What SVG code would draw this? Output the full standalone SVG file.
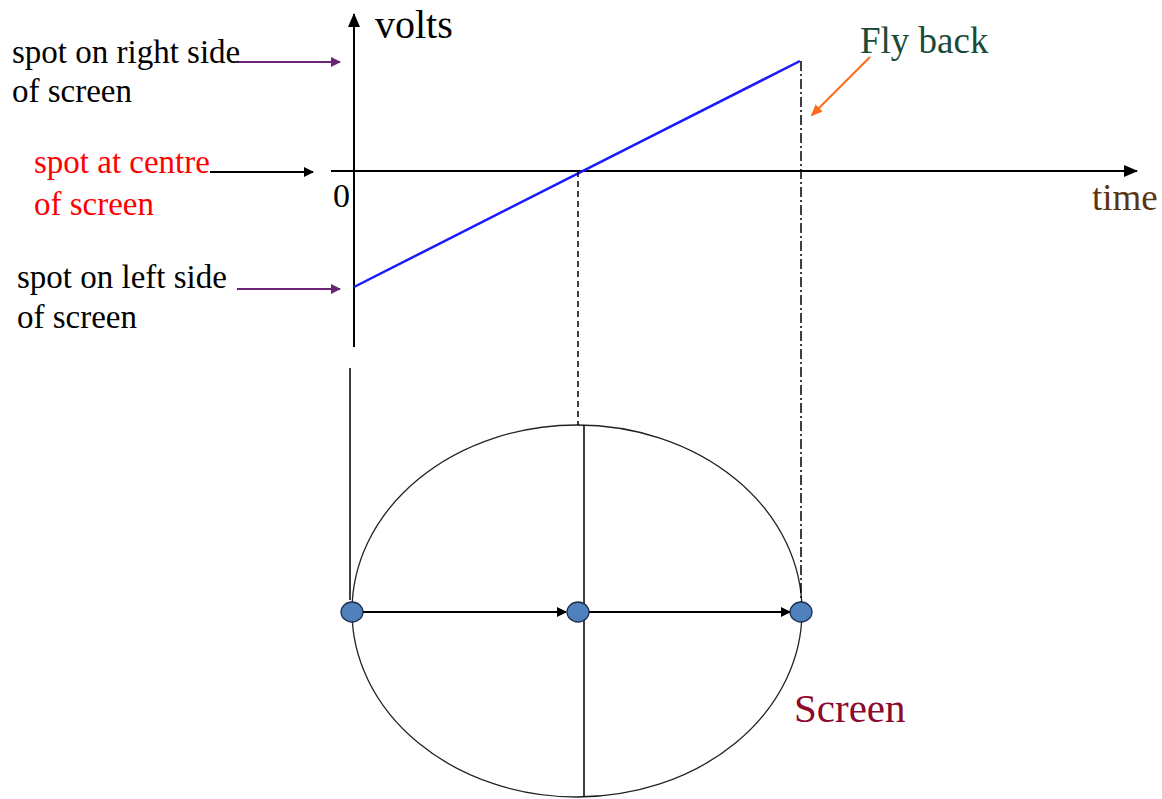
<svg xmlns="http://www.w3.org/2000/svg" width="1162" height="799" viewBox="0 0 1162 799">
<style>
text{font-family:"Liberation Serif","Times New Roman",serif;}
.lbl{font-size:33px;}
.ax{stroke:#000;stroke-width:2;fill:none;}
</style>
<defs>
<marker id="ab" markerWidth="10" markerHeight="10" refX="9" refY="5" orient="auto" markerUnits="userSpaceOnUse" viewBox="0 0 10 10"><path d="M0,0 L10,5 L0,10 z" fill="#000"/></marker>
<marker id="ap" markerWidth="10" markerHeight="10" refX="9" refY="5" orient="auto" markerUnits="userSpaceOnUse" viewBox="0 0 10 10"><path d="M0,0 L10,5 L0,10 z" fill="#6a2475"/></marker>
<marker id="ao" markerWidth="12" markerHeight="12" refX="10" refY="6" orient="auto" markerUnits="userSpaceOnUse" viewBox="0 0 12 12"><path d="M0,1 L12,6 L0,11 z" fill="#ff6a1a"/></marker>
<marker id="axm" markerWidth="14" markerHeight="12" refX="13" refY="6" orient="auto" markerUnits="userSpaceOnUse" viewBox="0 0 14 12"><path d="M0,0 L14,6 L0,12 z" fill="#000"/></marker>
</defs>
<rect width="1162" height="799" fill="#fff"/>
<g id="axes">
<line class="ax" x1="354" y1="347" x2="354" y2="14" marker-end="url(#axm)"/>
<line class="ax" x1="331" y1="171" x2="1137" y2="171" marker-end="url(#axm)"/>
</g>
<g id="ramp"><line x1="354" y1="287" x2="800" y2="61" stroke="#1a1aff" stroke-width="2.5"/></g>
<g id="screen">
<ellipse cx="577" cy="611" rx="225" ry="186" fill="none" stroke="#222" stroke-width="1.3"/>
<line x1="584" y1="425" x2="584" y2="797" stroke="#000" stroke-width="1.5"/>
</g>
<g id="connectors">
<line x1="350" y1="368" x2="350" y2="600" stroke="#000" stroke-width="1.5"/>
<line x1="578" y1="171" x2="578" y2="425" stroke="#000" stroke-width="1.5" stroke-dasharray="6,4"/>
<line x1="801" y1="61" x2="801" y2="611" stroke="#000" stroke-width="1.5" stroke-dasharray="10,3,2,3"/>
<line x1="237" y1="62" x2="340" y2="62" stroke="#6a2475" stroke-width="2" marker-end="url(#ap)"/>
<line x1="210" y1="172" x2="313" y2="172" stroke="#000" stroke-width="2" marker-end="url(#ab)"/>
<line x1="237" y1="289" x2="340" y2="289" stroke="#6a2475" stroke-width="2" marker-end="url(#ap)"/>
<line x1="870" y1="57" x2="812" y2="115" stroke="#ff6a1a" stroke-width="2" marker-end="url(#ao)"/>
<line x1="363" y1="612" x2="566" y2="612" stroke="#000" stroke-width="2" marker-end="url(#ab)"/>
<line x1="589" y1="612" x2="790" y2="612" stroke="#000" stroke-width="2" marker-end="url(#ab)"/>
</g>
<g id="dot-left"><ellipse cx="352" cy="612" rx="11" ry="10" fill="#4f81bd" stroke="#1f2f4f" stroke-width="1.3"/></g>
<g id="dot-centre"><ellipse cx="578" cy="612" rx="11" ry="10" fill="#4f81bd" stroke="#1f2f4f" stroke-width="1.3"/></g>
<g id="dot-right"><ellipse cx="801" cy="612" rx="11" ry="10" fill="#4f81bd" stroke="#1f2f4f" stroke-width="1.3"/></g>
<g id="labels">
<text class="lbl" x="12" y="63">spot on right side</text>
<text class="lbl" x="12" y="102">of screen</text>
<text class="lbl" x="34" y="173" fill="#ff0000">spot at centre</text>
<text class="lbl" x="34" y="215" fill="#ff0000">of screen</text>
<text class="lbl" x="17" y="288">spot on left side</text>
<text class="lbl" x="17" y="328">of screen</text>
<text x="333" y="207" font-size="34">0</text>
<text x="375" y="38" font-size="40">volts</text>
<text x="1092" y="210" font-size="37" fill="#5a3510">time</text>
<text x="860" y="53" font-size="37" fill="#1b4a38">Fly back</text>
<text x="794" y="722" font-size="41" fill="#8b0a2e">Screen</text>
</g>
</svg>
